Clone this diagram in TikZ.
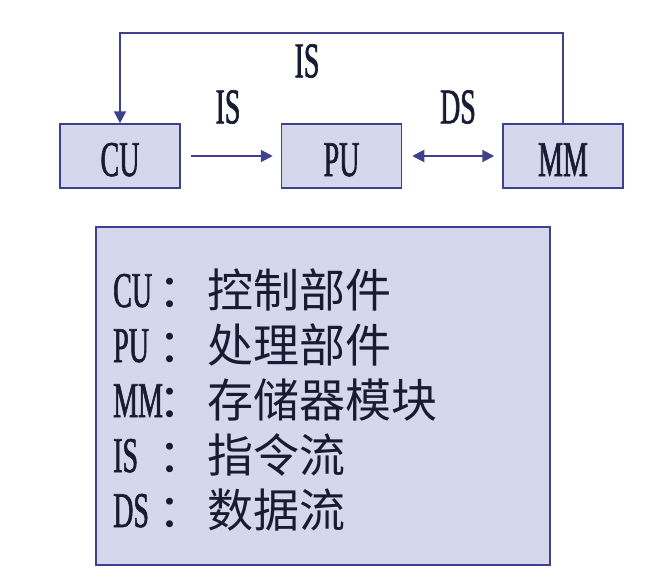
\documentclass[tikz,border=0pt]{standalone}
\usepackage{fontspec}
\setmainfont{Liberation Serif}[FakeStretch=0.56,FakeBold=1.2]
\newfontfamily\cjk{Noto Sans CJK SC}
\usetikzlibrary{positioning,arrows.meta}
\definecolor{color1}{RGB}{213,216,236}
\definecolor{color2}{RGB}{62,66,140}
\definecolor{color3}{RGB}{26,26,52}

\begin{document}
\begin{tikzpicture}[x=1pt,y=-1pt]
\tikzset{unit box/.style={draw=color2,line width=1.5pt,fill=color1,minimum width=120pt,minimum height=64pt,inner sep=0pt,text height=40pt,text depth=0pt,text=color3,font=\fontsize{50}{50}\selectfont},
flow/.style={draw=color2,line width=2pt,-{Triangle[length=12pt,width=12pt]}},
flow label/.style={text=color3,font=\fontsize{50}{50}\selectfont},
key text/.style={anchor=base west,inner sep=0pt,text=color3,font=\fontsize{50}{50}\selectfont}}
\useasboundingbox (0,0) rectangle (662,587);
% Nodos
\node [unit box] (CU) at (120,156) {CU};
\node [unit box, right=100pt of CU] (PU) {PU};
\node [unit box, right=100pt of PU] (MM) {MM};
\coordinate (top) at (340,33);
% Flujos
\draw [flow] (MM.north) |- (top) -| (CU.north);
\draw [flow, shorten <=10pt, shorten >=8pt] (CU) -- (PU);
\draw [flow, {Triangle[length=12pt,width=12pt]}-{Triangle[length=12pt,width=12pt]}, shorten <=10pt, shorten >=8pt] (PU) -- (MM);
\node [flow label] (is top) at (307,61) {IS};
\node [flow label] (is mid) at (228,107) {IS};
\node [flow label] (ds mid) at (458,107) {DS};
% Leyenda
\node [draw=color2, line width=1.5pt, fill=color1, minimum width=454pt, minimum height=338pt] (key) at (323,396) {};
\foreach \k/\v [count=\i] in {CU/控制部件,PU/处理部件,MM/存储器模块,IS/指令流,DS/数据流}
{
  \node [key text] (k\i) at (113,252+55*\i) {\makebox[45pt][l]{\k}{\cjk\fontsize{46}{46}\selectfont ：}};
  \node [key text] (v\i) at (207,252+55*\i) {\cjk\fontsize{46}{46}\selectfont \v};
}
\end{tikzpicture}
\end{document}
